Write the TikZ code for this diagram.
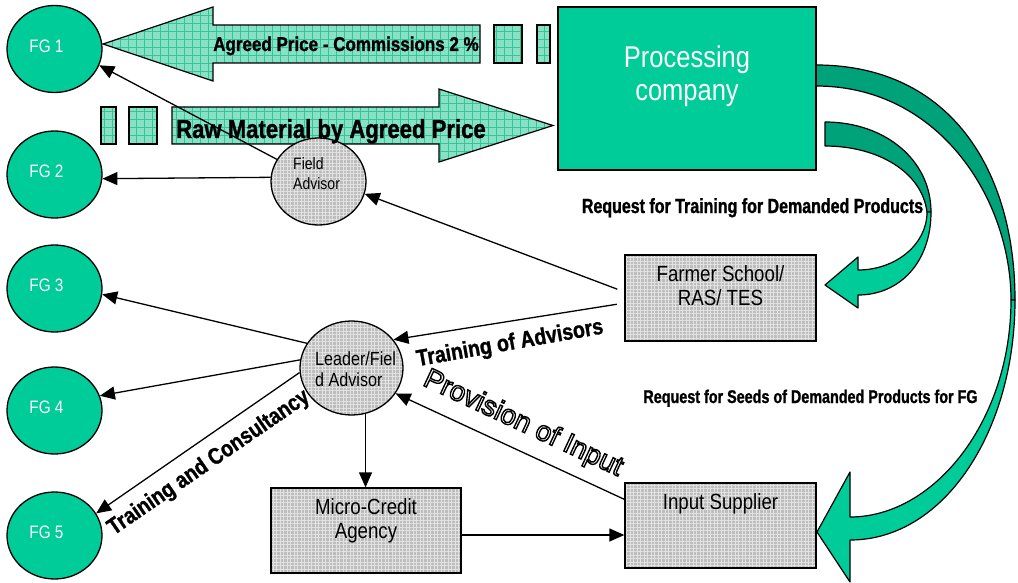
\documentclass[tikz,border=0pt]{standalone}
\usepackage{fontspec}
\setmainfont{Liberation Sans}
\newfontfamily\narrowsans{Liberation Sans}[FakeStretch=0.85]
\newfontfamily\heavysans{Liberation Sans Bold}[FakeStretch=0.85, FakeBold=1.2]
\newfontfamily\heavytight{Liberation Sans Bold}[FakeStretch=0.78, FakeBold=1.2]
\usetikzlibrary{arrows.meta,patterns.meta,shapes.geometric}

\definecolor{pcgreen}{HTML}{00CC99}
\definecolor{pcdark}{HTML}{00A27A}
\definecolor{meshfill}{HTML}{88E0C5}
\definecolor{meshline}{HTML}{33C497}
\definecolor{cellfill}{HTML}{BDBDBD}
\definecolor{cellline}{HTML}{E2E2E2}

\newcommand\fsz[2]{\fontsize{#1}{#2}\selectfont}
% stroked (hollow) lettering
\newcommand\hollow[1]{\special{pdf:literal direct 1 Tr 1.4 w}#1\special{pdf:literal direct 0 Tr}}

\begin{document}
\begin{tikzpicture}[x=1pt,y=-1pt,
  fg/.style={ellipse, draw, line width=1.3pt, fill=pcgreen,
    minimum width=95pt, minimum height=87pt, inner sep=0pt},
  fgtext/.style={text=white, font=\narrowsans\fsz{18}{20}, inner sep=0pt,
    xshift=-8pt, yshift=3pt},
  cell/.style={draw, line width=1.3pt, preaction={fill=cellfill},
    pattern={Hatch[distance=3.5pt, line width=0.6pt]}, pattern color=cellline,
    inner sep=0pt},
  boxtext/.style={font=\narrowsans\fsz{22}{24}, align=center, inner sep=0pt, anchor=north},
  mesh/.style={draw, line width=1.2pt, line join=miter, preaction={fill=meshfill},
    pattern={Hatch[distance=8pt, line width=0.6pt]}, pattern color=meshline},
  band/.style={draw, line width=1.2pt, line join=round},
  arr/.style={line width=1.3pt, -{Triangle[length=15pt, width=13pt]}},
  lbl/.style={font=\heavysans\fsz{20}{22}, inner sep=0pt},
  reqlbl/.style={inner sep=0pt, anchor=base},
]
\useasboundingbox (0,0) rectangle (1018,583);

% ---- money / material flows between the farmer groups and the company
\path[mesh] (103,44) -- (213,7) -- (213,25) -- (480,25) -- (480,63)
  -- (213,63) -- (213,81) -- cycle;
\path[mesh] (494,25) rectangle (522,63);
\path[mesh] (537,25) rectangle (550,63);

\path[mesh] (101,107) rectangle (116,144);
\path[mesh] (129,107) rectangle (157,144);
\path[mesh] (172,107) -- (439,107) -- (439,89) -- (553,125.5) -- (439,162)
  -- (439,144) -- (172,144) -- cycle;

% ---- curved requests leaving the processing company
% to the farmer school
\path[band, fill=pcdark] (825,122) .. controls (885,122) and (931,160) .. (931,212)
  -- (927,212) .. controls (922,172) and (878,146) .. (825,146) -- cycle;
\path[band, fill=pcgreen] (931,212) .. controls (931,262) and (900,295) .. (858,295)
  -- (858,308) -- (825,285) -- (858,257) -- (858,270)
  .. controls (895,270) and (927,245) .. (927,212) -- cycle;
% to the input supplier
\path[band, fill=pcdark] (816,65) .. controls (950,65) and (1015,170) .. (1015,300)
  -- (1011,300) .. controls (1011,200) and (940,86) .. (816,86) -- cycle;
\path[band, fill=pcgreen] (1015,300) .. controls (1015,430) and (945,540) .. (850,540)
  -- (850,582) -- (817,532) -- (850,472) -- (850,517)
  .. controls (935,517) and (1011,420) .. (1011,300) -- cycle;

% ---- farmer groups
\node[fg, label={[fgtext]center:FG 1}] (fg1) at (54.5,49) {};
\node[fg, label={[fgtext]center:FG 2}] (fg2) at (54.5,174.5) {};
\node[fg, label={[fgtext]center:FG 3}] (fg3) at (54.5,288.5) {};
\node[fg, label={[fgtext]center:FG 4}] (fg4) at (54.5,410.5) {};
\node[fg, label={[fgtext]center:FG 5}] (fg5) at (54.5,535.5) {};

% ---- organisations
\node[draw, line width=1.3pt, fill=pcgreen, minimum width=258pt, minimum height=163pt,
  inner sep=0pt] (pc) at (687,88.5) {};
\node[font=\narrowsans\fsz{30}{33}, text=white, align=center, anchor=north, inner sep=0pt]
  (pct) at ([yshift=-39pt]pc.north) {Processing\\company};

\node[cell, minimum width=191pt, minimum height=86pt] (fs) at (720.5,298) {};
\node[boxtext] (fst) at ([yshift=-11pt]fs.north) {Farmer School/\\RAS/ TES};

\node[cell, minimum width=191pt, minimum height=85pt] (is) at (720.5,525.5) {};
\node[boxtext] (ist) at ([yshift=-11pt]is.north) {Input Supplier};

\node[cell, minimum width=190pt, minimum height=85pt] (mc) at (366,530.5) {};
\node[boxtext] (mct) at ([yshift=-11pt]mc.north) {Micro-Credit\\Agency};

% ---- advisors
\node[cell, ellipse, minimum width=95pt, minimum height=87pt] (fa) at (318.5,181.5) {};
\node[font=\narrowsans\fsz{16.5}{20}, align=left, anchor=north west, inner sep=0pt]
  (fat) at (293,157) {Field\\Advisor};

\node[cell, ellipse, minimum width=103pt, minimum height=94pt] (ld) at (351.5,368) {};
\node[font=\narrowsans\fsz{19}{21}, align=left, anchor=north west, inner sep=0pt]
  (ldt) at (315,352) {Leader/Fiel\\d Advisor};

% ---- connectors
\draw[arr] (fa.152) -- (fg1.-20);
\draw[arr] (fa.175) -- (fg2.-5);
\draw[arr, shorten <=8pt] ([yshift=6pt]fs.west) -- (fa.-15);
\draw[arr, shorten <=8pt] ([yshift=-5pt]fs.west) -- (ld.34);
\draw[arr] (ld.151) -- (fg3.-7);
\draw[arr] (ld.171) -- (fg4.18);
\draw[arr] (ld.185) -- (fg5.28);
\draw[arr] (ld.-73) -- (ld.-73 |- mc.north);
\draw[arr] ([yshift=-4.5pt]mc.east) -- ([yshift=-4.5pt]mc.east -| is.west);
\draw[arr] ([yshift=-17pt]is.north west) -- (ld.-30);

% ---- flow labels
\node[lbl, anchor=base] (lagreed) at (346,51) {Agreed Price - Commissions 2 \%};
\node[lbl, font=\heavysans\fsz{26}{28}, anchor=base] (lraw) at (331,138)
  {Raw Material by Agreed Price};
\node[reqlbl, font=\heavytight\fsz{20.5}{23}] (lreqtr) at (752.5,213)
  {Request for Training for Demanded Products};
\node[reqlbl, font=\heavytight\fsz{18.4}{20}] (lreqsd) at (810.5,403)
  {Request for Seeds of Demanded Products for FG};
\node[lbl, font=\heavysans\fsz{23}{25}, rotate=10] (ltrain) at (510,344)
  {Training of Advisors};
\node[lbl, font=\heavysans\fsz{23}{25}, rotate=34.5] (lcons) at (209,463)
  {Training and Consultancy};
\node[inner sep=0pt, font=\fsz{28}{30}, rotate=-25] (lprov) at (523,424)
  {\hollow{Provision of Input}};
\end{tikzpicture}
\end{document}
